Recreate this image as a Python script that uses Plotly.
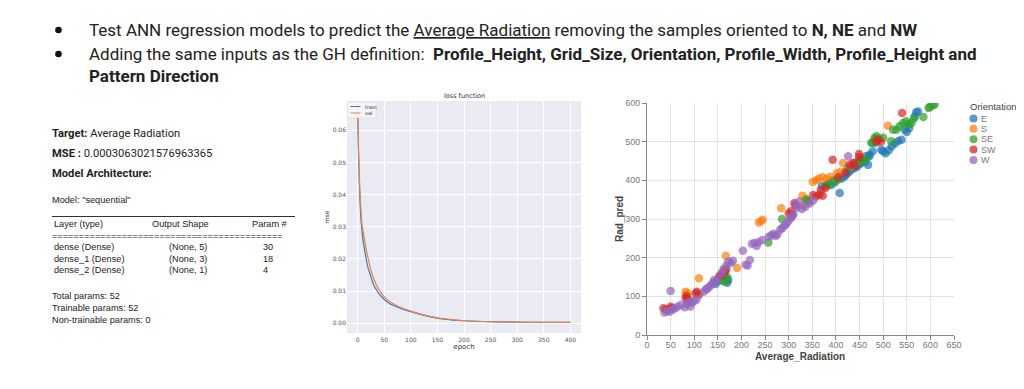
import plotly.graph_objects as go

# The page body has an 8px margin, so the figure is drawn 8px smaller and all
# pixel positions are measured in page coordinates and shifted by OFF.
PAGE_W, PAGE_H = 1024, 389
OFF = 8
W, H = PAGE_W - OFF, PAGE_H - OFF

# ---------------- data ----------------
epochs = [0, 2, 4, 6, 8, 10, 13, 16, 20, 25, 30, 35, 40, 50, 60, 70, 80, 100, 120, 150, 175, 200, 250, 300, 350, 400]
train_loss = [0.066, 0.050, 0.040, 0.033, 0.029, 0.026, 0.023, 0.020, 0.017, 0.0145, 0.012, 0.0105, 0.0092,
              0.0074, 0.0062, 0.0054, 0.0047, 0.0036, 0.0027, 0.0016, 0.0011, 0.0008, 0.0005, 0.0004, 0.0003, 0.0003]
val_loss = [0.068, 0.052, 0.042, 0.036, 0.031, 0.029, 0.026, 0.023, 0.020, 0.0165, 0.014, 0.012, 0.0105,
            0.0082, 0.0068, 0.0058, 0.0050, 0.0038, 0.0028, 0.0017, 0.0012, 0.0008, 0.0005, 0.0004, 0.0003, 0.0003]
loss_series = ["train", "val"]
loss_colors = ["#4c72b0", "#dd8452"]

orientations = ["E", "S", "SE", "SW", "W"]
E_x = [145, 150, 170, 172, 370, 382, 390, 398, 408, 412, 418, 422, 426, 430, 435, 440, 445, 450, 453, 457, 462, 464,
       468, 471, 471, 478, 484, 496, 500, 505, 512, 518, 525, 532, 539, 546, 550, 555, 567, 570, 574]
E_y = [132, 140, 135, 142, 385, 392, 388, 395, 367, 405, 410, 415, 420, 425, 430, 432, 436, 442, 445, 453, 448, 462,
       440, 466, 462, 475, 497, 479, 475, 470, 478, 488, 495, 502, 505, 531, 525, 535, 565, 576, 578]
S_x = [82, 82, 86, 110, 155, 163, 167, 191, 237, 241, 245, 284, 329, 333, 338, 351, 358, 364, 372, 380, 388, 393,
       402, 410, 415, 432, 445, 455, 482, 492, 510]
S_y = [112, 104, 108, 147, 155, 169, 205, 173, 291, 294, 298, 328, 360, 337, 352, 396, 400, 405, 408, 404, 409, 400,
       418, 422, 445, 435, 448, 458, 505, 508, 541]
SE_x = [160, 165, 167, 170, 257, 286, 337, 342, 378, 386, 395, 405, 425, 440, 449, 456, 457, 464, 475, 477, 482, 486,
        500, 517, 521, 528, 535, 542, 549, 555, 560, 565, 585, 596, 599, 605, 609]
SE_y = [140, 138, 147, 150, 239, 300, 350, 345, 385, 390, 398, 402, 432, 445, 448, 453, 451, 455, 497, 497, 510, 514,
        510, 501, 531, 531, 540, 548, 553, 545, 548, 560, 564, 587, 590, 594, 596]
SW_x = [35, 40, 50, 52, 82, 84, 88, 103, 106, 110, 153, 160, 165, 168, 300, 305, 308, 312, 315, 352, 358, 365, 372,
        368, 378, 393, 405, 420, 429, 436, 440, 449, 449, 486, 489, 495, 540]
SW_y = [69, 66, 73, 69, 95, 100, 92, 108, 112, 104, 151, 158, 165, 170, 315, 320, 310, 341, 335, 362, 358, 363, 360,
        375, 380, 453, 408, 420, 440, 445, 438, 460, 468, 501, 505, 500, 574]
W_x = [37, 42, 48, 50, 55, 60, 64, 72, 80, 85, 89, 92, 96, 100, 105, 120, 125, 128, 132, 136, 140, 142, 146, 150,
       158, 162, 168, 172, 178, 182, 203, 209, 213, 218, 222, 228, 232, 236, 244, 258, 263, 268, 272, 276, 282, 286,
       290, 294, 298, 302, 306, 310, 315, 318, 322, 328, 335, 345, 352, 426]
W_y = [58, 62, 60, 114, 66, 70, 73, 78, 72, 80, 86, 74, 84, 88, 92, 112, 118, 120, 125, 130, 135, 142, 138, 145,
       160, 170, 180, 190, 186, 192, 218, 182, 180, 194, 236, 238, 230, 240, 246, 254, 258, 262, 256, 260, 272, 276,
       282, 286, 292, 300, 304, 312, 337, 330, 345, 326, 332, 340, 348, 462]
scatter_x = [E_x, S_x, SE_x, SW_x, W_x]
scatter_y = [E_y, S_y, SE_y, SW_y, W_y]
orient_colors = ["#1f77b4", "#ff7f0e", "#2ca02c", "#d62728", "#9467bd"]

x_ticks_scatter = list(range(0, 651, 50))
y_ticks_scatter = list(range(0, 601, 100))
x_ticks_loss = list(range(0, 401, 50))
y_ticks_loss = [0.0, 0.01, 0.02, 0.03, 0.04, 0.05, 0.06]


def px(x):
    return (x - OFF) / W


def py(y):
    return 1 - (y - OFF) / H


fig = go.Figure()

# loss curves
for name, ys, c in zip(loss_series, [train_loss, val_loss], loss_colors):
    fig.add_trace(go.Scatter(x=epochs, y=ys, mode="lines", name=name,
                             line=dict(color=c, width=1.2, shape="spline"), xaxis="x", yaxis="y"))

# scatter
for name, xs, ys, c in zip(orientations, scatter_x, scatter_y, orient_colors):
    fig.add_trace(go.Scatter(x=xs, y=ys, mode="markers", name=name,
                             marker=dict(color=c, size=8.5, opacity=0.7, line=dict(width=0)),
                             xaxis="x2", yaxis="y2"))

loss_font = dict(family="DejaVu Sans", size=6, color="#555")
sc_font = dict(family="Liberation Sans", size=9, color="#777")

fig.update_layout(
    width=W, height=H, margin=dict(l=0, r=0, t=0, b=0, autoexpand=False),
    paper_bgcolor="white", plot_bgcolor="white", showlegend=False,
    xaxis=dict(domain=[px(347), px(581)], anchor="y", range=[-20, 420], tickvals=x_ticks_loss,
               showgrid=True, gridcolor="white", gridwidth=1, zeroline=False, showline=False, automargin=False,
               tickfont=loss_font, ticks="", ticklabelstandoff=2,
               title=dict(text="epoch", font=dict(family="DejaVu Sans", size=7, color="#333"), standoff=2)),
    yaxis=dict(domain=[py(333), py(101)], anchor="x", range=[-0.003, 0.0691], tickvals=y_ticks_loss,
               tickformat=".2f", showgrid=True, gridcolor="white", gridwidth=1, zeroline=False, showline=False,
               automargin=False, tickfont=loss_font, ticks="",
               title=dict(text="mse", font=dict(family="DejaVu Sans", size=6, color="#333"), standoff=2)),
    xaxis2=dict(domain=[px(647), px(954)], anchor="y2", range=[0, 650], tickvals=x_ticks_scatter,
                showgrid=True, gridcolor="#e2e2e2", zeroline=False, showline=True, linecolor="#888", linewidth=1,
                automargin=False, ticks="outside", ticklen=4, tickcolor="#888", tickfont=sc_font,
                ticklabelstandoff=-3),
    yaxis2=dict(domain=[py(335), py(103)], anchor="x2", range=[0, 600], tickvals=y_ticks_scatter,
                showgrid=True, gridcolor="#e2e2e2", zeroline=False, showline=True, linecolor="#888", linewidth=1,
                automargin=False, ticks="outside", ticklen=4, tickcolor="#888", tickfont=sc_font),
)

shapes = []
# loss panel background (seaborn darkgrid look)
shapes.append(dict(type="rect", xref="x domain", yref="y domain", x0=0, x1=1, y0=0, y1=1,
                   fillcolor="#EAEAF2", line=dict(width=0), layer="below"))
# table rule
shapes.append(dict(type="line", xref="paper", yref="paper", x0=px(52), x1=px(295), y0=py(216.5), y1=py(216.5),
                   line=dict(color="#333", width=1)))

ann = []


def text(x, y, s, size, family="Roboto", color="#222", anchor="left", angle=0):
    ann.append(dict(x=px(x), y=py(y), xref="paper", yref="paper", text=s, showarrow=False, textangle=angle,
                    xanchor=anchor, yanchor="middle", font=dict(family=family, size=size, color=color)))


# header bullets (filled discs)
for yy in (30, 54):
    shapes.append(dict(type="circle", xref="paper", yref="paper", xsizemode="pixel", ysizemode="pixel",
                       xanchor=px(58.5), yanchor=py(yy), x0=-3.3, x1=3.3, y0=-3.3, y1=3.3,
                       fillcolor="#111", line=dict(width=0)))
text(87, 30, "Test ANN regression models to predict the <span style='text-decoration:underline'>Average Radiation</span>"
             " removing the samples oriented to <b>N, NE</b> and <b>NW</b>", 17)
text(87, 54, "Adding the same inputs as the GH definition:  <b>Profile_Height, Grid_Size, Orientation, Profile_Width, "
             "Profile_Height and</b>", 17)
text(87, 76, "<b>Pattern Direction</b>", 17)

# left panel
text(50, 133, "<b>Target:</b> Average Radiation", 11.2)
text(50, 153, "<b>MSE :</b> 0.0003063021576963365", 11.2)
text(50, 173, "<b>Model Architecture:</b>", 11.2)
tf = "Liberation Sans"
fs = 9.2
text(50, 200, 'Model: "sequential"', fs, tf)
text(52, 224, "Layer (type)", fs, tf)
text(150, 224, "Output Shape", fs, tf)
text(250, 224, "Param #", fs, tf)
text(50, 235.5, "=" * 43, fs, tf)
rows = [("dense (Dense)", "(None, 5)", "30"), ("dense_1 (Dense)", "(None, 3)", "18"), ("dense_2 (Dense)", "(None, 1)", "4")]
for i, (a, b, c) in enumerate(rows):
    yy = 247 + i * 11.7
    text(52, yy, a, fs, tf)
    text(167, yy, b, fs, tf)
    text(261, yy, c, fs, tf)
text(50, 296, "Total params: 52", fs, tf)
text(50, 308, "Trainable params: 52", fs, tf)
text(50, 320, "Non-trainable params: 0", fs, tf)

# loss title
text(464, 96, "loss function", 6.5, "DejaVu Sans", "#333", "center")

# scatter axis titles
text(800, 356, "<b>Average_Radiation</b>", 10, "Liberation Sans", "#444", "center")
text(619, 219, "<b>Rad_pred</b>", 10, "Liberation Sans", "#444", "center", -90)

# loss legend (drawn compactly like matplotlib)
shapes.append(dict(type="rect", xref="paper", yref="paper", x0=px(347.5), x1=px(376), y0=py(118), y1=py(102),
                   fillcolor="rgba(245,245,250,0.9)", line=dict(color="#d8d8d8", width=0.6)))
for i, (name, c) in enumerate(zip(loss_series, loss_colors)):
    yy = 106.5 + i * 6.5
    shapes.append(dict(type="line", xref="paper", yref="paper", x0=px(350.5), x1=px(360.5), y0=py(yy), y1=py(yy),
                       line=dict(color=c, width=1)))
    text(362.5, yy, name, 5, "DejaVu Sans", "#333")

# orientation legend (compact, like Vega-Lite)
text(968, 106, "Orientation", 9.5, "Liberation Sans", "#444")
leg_y = [118.5, 128.8, 139.2, 149.6, 160.0]
for name, c, yy in zip(orientations, orient_colors, leg_y):
    shapes.append(dict(type="circle", xref="paper", yref="paper", xsizemode="pixel", ysizemode="pixel",
                       xanchor=px(973.5), yanchor=py(yy), x0=-4, x1=4, y0=-4, y1=4,
                       fillcolor=c, opacity=0.75, line=dict(width=0)))
    text(979, yy, name, 9, "Liberation Sans", "#777")

fig.update_layout(annotations=ann, shapes=shapes)

fig.write_html("out.html")
